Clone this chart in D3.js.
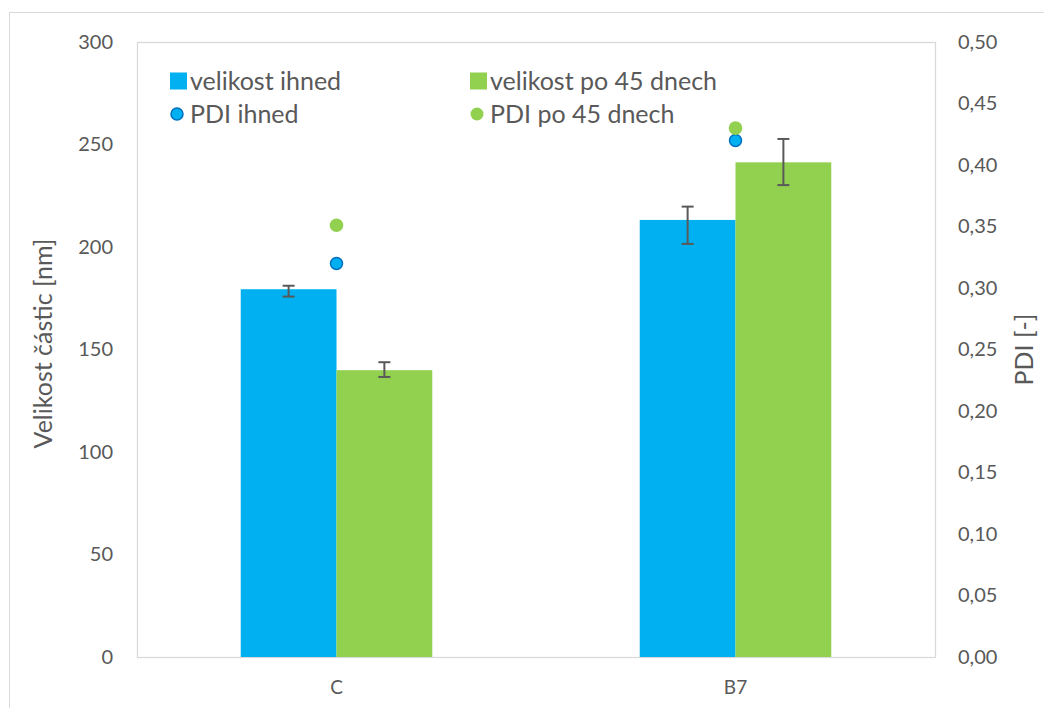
<!DOCTYPE html>
<html>
<head>
<meta charset="utf-8">
<script src="https://cdn.jsdelivr.net/npm/d3@7"></script>
<style>
  html, body { margin: 0; padding: 0; background: #fff; }
  svg { display: block; font-family: Lato, "Open Sans", sans-serif; }
</style>
</head>
<body>
<svg id="chart" width="1044" height="708"></svg>
<script>
// Samples and measurement series
const categories = ["C", "B7"];
const sizeNow = [179.4, 213.2];
const sizeNowErrPlus = [1.7, 6.5];
const sizeNowErrMinus = [3.6, 11.7];
const size45 = [139.9, 241.3];
const size45ErrPlus = [3.9, 11.4];
const size45ErrMinus = [3.3, 11.1];
const pdiNow = [0.320, 0.420];
const pdi45 = [0.351, 0.430];
const leftTicks = [0, 50, 100, 150, 200, 250, 300];
const rightTicks = [0, 0.05, 0.10, 0.15, 0.20, 0.25, 0.30, 0.35, 0.40, 0.45, 0.50];

const blue = "#00b0f0", blueEdge = "#0070c0", green = "#92d050";
const textCol = "#595959", gridCol = "#d9d9d9";

const svg = d3.select("#chart");
const plot = { left: 137, right: 935, top: 42, bottom: 657 };

// outer chart frame
svg.append("rect").attr("x", 9.5).attr("y", 12.5).attr("width", 1100).attr("height", 800)
  .attr("fill", "none").attr("stroke", gridCol).attr("stroke-width", 1);

const x = d3.scaleBand().domain(categories).range([plot.left, plot.right]).paddingInner(0.52).paddingOuter(0.26);
const sub = d3.scaleBand().domain(["now", "d45"]).range([0, x.bandwidth()]);
const y = d3.scaleLinear().domain([0, 300]).range([plot.bottom, plot.top]);
const y2 = d3.scaleLinear().domain([0, 0.5]).range([plot.bottom, plot.top]);

// plot area frame
svg.append("rect").attr("x", plot.left + 0.5).attr("y", plot.top + 0.5)
  .attr("width", plot.right - plot.left).attr("height", plot.bottom - plot.top)
  .attr("fill", "none").attr("stroke", gridCol).attr("stroke-width", 1.3);

// axes
const fmt = d3.format(".2f");
const leftAxis = svg.append("g").attr("transform", `translate(${plot.left},0)`)
  .call(d3.axisLeft(y).tickValues(leftTicks).tickSize(0).tickPadding(24));
const rightAxis = svg.append("g").attr("transform", `translate(${plot.right},0)`)
  .call(d3.axisRight(y2).tickValues(rightTicks).tickSize(0).tickPadding(23)
    .tickFormat(d => fmt(d).replace(".", ",")));
const bottomAxis = svg.append("g").attr("transform", `translate(0,${plot.bottom})`)
  .call(d3.axisBottom(x).tickSize(0).tickPadding(24));
[leftAxis, rightAxis, bottomAxis].forEach(g => {
  g.select(".domain").remove();
  g.selectAll("text").attr("fill", textCol).attr("font-size", 20)
    .attr("font-family", "Lato, 'Open Sans', sans-serif");
});
bottomAxis.selectAll("text").attr("font-size", 19);

// bars
const series = [
  { key: "now", vals: sizeNow, plus: sizeNowErrPlus, minus: sizeNowErrMinus, color: blue },
  { key: "d45", vals: size45, plus: size45ErrPlus, minus: size45ErrMinus, color: green }
];
series.forEach(s => {
  svg.append("g").selectAll("rect").data(categories).join("rect")
    .attr("x", c => x(c) + sub(s.key))
    .attr("width", sub.bandwidth())
    .attr("y", (c, i) => y(s.vals[i]))
    .attr("height", (c, i) => y(0) - y(s.vals[i]))
    .attr("fill", s.color);
});

// error bars
series.forEach(s => {
  const g = svg.append("g").attr("stroke", textCol).attr("stroke-width", 2);
  categories.forEach((c, i) => {
    const cx = x(c) + sub(s.key) + sub.bandwidth() / 2;
    const hi = y(s.vals[i] + s.plus[i]), lo = y(s.vals[i] - s.minus[i]);
    g.append("line").attr("x1", cx).attr("x2", cx).attr("y1", hi).attr("y2", lo);
    g.append("line").attr("x1", cx - 6).attr("x2", cx + 6).attr("y1", hi).attr("y2", hi);
    g.append("line").attr("x1", cx - 6).attr("x2", cx + 6).attr("y1", lo).attr("y2", lo);
  });
});

// PDI points on the secondary axis
const px = c => x(c) + x.bandwidth() / 2;
svg.append("g").selectAll("circle").data(categories).join("circle")
  .attr("cx", px).attr("cy", (c, i) => y2(pdiNow[i])).attr("r", 6)
  .attr("fill", blue).attr("stroke", blueEdge).attr("stroke-width", 1.5);
svg.append("g").selectAll("circle").data(categories).join("circle")
  .attr("cx", px).attr("cy", (c, i) => y2(pdi45[i])).attr("r", 6.8)
  .attr("fill", green);

// axis titles
svg.append("text").attr("transform", `translate(52,${(plot.top + plot.bottom) / 2 - 6}) rotate(-90)`)
  .attr("text-anchor", "middle").attr("fill", textCol).attr("font-size", 25)
  .text("Velikost částic [nm]");
svg.append("text").attr("transform", `translate(1033,${(plot.top + plot.bottom) / 2}) rotate(-90)`)
  .attr("text-anchor", "middle").attr("fill", textCol).attr("font-size", 25)
  .text("PDI [-]");

// legend
const legend = [
  { label: "velikost ihned", type: "rect", color: blue, x: 170, y: 81 },
  { label: "velikost po 45 dnech", type: "rect", color: green, x: 470, y: 81 },
  { label: "PDI ihned", type: "circle", color: blue, x: 170, y: 114 },
  { label: "PDI po 45 dnech", type: "circle", color: green, x: 470, y: 114 }
];
const lg = svg.append("g");
legend.forEach(d => {
  if (d.type === "rect") {
    lg.append("rect").attr("x", d.x).attr("y", d.y - 8.5).attr("width", 17).attr("height", 17).attr("fill", d.color);
  } else if (d.color === blue) {
    lg.append("circle").attr("cx", d.x + 7).attr("cy", d.y).attr("r", 6)
      .attr("fill", blue).attr("stroke", blueEdge).attr("stroke-width", 1.5);
  } else {
    lg.append("circle").attr("cx", d.x + 7).attr("cy", d.y).attr("r", 6.5).attr("fill", green);
  }
  lg.append("text").attr("x", d.x + 20).attr("y", d.y).attr("dy", "0.35em")
    .attr("fill", textCol).attr("font-size", 25).text(d.label);
});
</script>
</body>
</html>
